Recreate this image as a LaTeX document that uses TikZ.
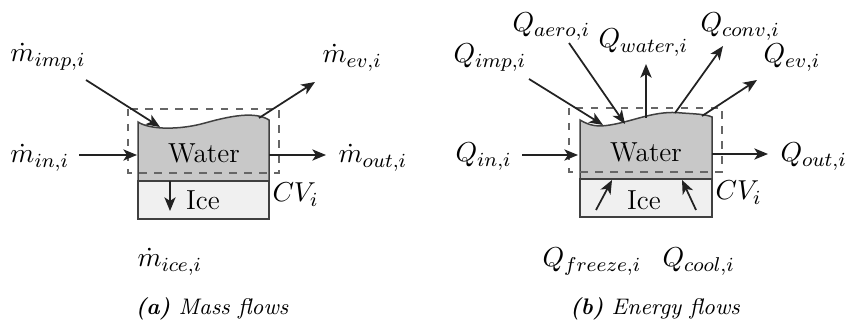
\documentclass[tikz,border=0pt]{standalone}
\usetikzlibrary{arrows.meta}
\definecolor{waterc}{HTML}{C8C8C8}
\definecolor{icec}{HTML}{F0F0F0}
\definecolor{edgec}{HTML}{404040}
\definecolor{arrc}{HTML}{222222}
\begin{document}
\begin{tikzpicture}[x=0.4pt,y=-0.4pt,
  font=\fontsize{11}{13}\selectfont,
  flow/.style={draw=arrc,line width=0.7pt,-{Stealth[length=5.5pt,width=4.5pt,inset=1.5pt]}},
  lbl/.style={inner sep=0pt,anchor=base west},
  ctr/.style={inner sep=0pt,anchor=base},
  cvbox/.style={draw=edgec!80,dashed,line width=0.5pt},
  waterbox/.style={fill=waterc,draw=edgec,line width=0.6pt},
  icebox/.style={fill=icec,draw=edgec,line width=0.6pt},
  capt/.style={inner sep=0pt,anchor=base,font=\small\itshape}]
\useasboundingbox (0,0) rectangle (850,324);

% ===== (a) Mass flows =====
\begin{scope}
\draw[icebox] (138,181) rectangle (269,219);
\draw[waterbox] (138,181) -- (138,122) .. controls (150,130) and (180,130) .. (205,123)
  .. controls (230,116) and (255,111) .. (269,120) -- (269,181) -- cycle;
\draw[cvbox] (128,109) rectangle (279,173);
\node[ctr] (aw) at (204,163) {Water};
\node[ctr] (ai) at (203,210) {Ice};
\node[lbl] (aimp) at (10,62) {$\dot m_{imp,i}$};
\node[lbl] (aev) at (322,63) {$\dot m_{ev,i}$};
\node[lbl] (ain) at (10,163) {$\dot m_{in,i}$};
\node[lbl] (aout) at (338,163) {$\dot m_{out,i}$};
\node[lbl] (aice) at (137,267) {$\dot m_{ice,i}$};
\node[lbl] (acv) at (272,202) {$CV_i$};
\coordinate (aimpS) at (86,80);
\coordinate (aimpE) at (160,127);
\coordinate (aevS) at (259,118);
\coordinate (aevE) at (315,82);
\coordinate (ainS) at (79,155);
\coordinate (ainE) at (137,155);
\coordinate (aoutS) at (269,155);
\coordinate (aoutE) at (326,155);
\coordinate (aiceS) at (170,181);
\coordinate (aiceE) at (170,211);
\draw[flow] (aimpS) -- (aimpE);
\draw[flow] (aevS) -- (aevE);
\draw[flow] (ainS) -- (ainE);
\draw[flow] (aoutS) -- (aoutE);
\draw[flow] (aiceS) -- (aiceE);
\node[capt] (acap) at (212,315) {\textbf{(a)} Mass flows};
\end{scope}

% ===== (b) Energy flows =====
\begin{scope}
\draw[icebox] (580,179) rectangle (712,217);
\draw[waterbox] (580,179) -- (580,120) .. controls (590,126) and (598,127) .. (610,125)
  .. controls (635,121) and (655,110) .. (682,113)
  .. controls (695,114) and (705,114) .. (712,117) -- (712,179) -- cycle;
\draw[cvbox] (569,108) rectangle (722,172);
\node[ctr] (bw) at (646,162) {Water};
\node[ctr] (bi) at (644,210) {Ice};
\node[lbl] (bimp) at (453,63) {$Q_{imp,i}$};
\node[lbl] (baero) at (512,32) {$Q_{aero,i}$};
\node[lbl] (bwat) at (598,48) {$Q_{water,i}$};
\node[lbl] (bconv) at (700,32) {$Q_{conv,i}$};
\node[lbl] (bev) at (763,63) {$Q_{ev,i}$};
\node[lbl] (bin) at (455,162) {$Q_{in,i}$};
\node[lbl] (bout) at (780,162) {$Q_{out,i}$};
\node[lbl] (bfr) at (542,267) {$Q_{freeze,i}$};
\node[lbl] (bcool) at (662,267) {$Q_{cool,i}$};
\node[lbl] (bcv) at (715,200) {$CV_i$};
\coordinate (bimpS) at (529,79);
\coordinate (bimpE) at (603,125);
\coordinate (baeroS) at (569,43);
\coordinate (baeroE) at (625,124);
\coordinate (bwatS) at (646,118);
\coordinate (bwatE) at (646,64);
\coordinate (bconvS) at (675,113);
\coordinate (bconvE) at (723,46);
\coordinate (bevS) at (702,116);
\coordinate (bevE) at (757,80);
\coordinate (binS) at (522,155);
\coordinate (binE) at (578,155);
\coordinate (boutS) at (712,154);
\coordinate (boutE) at (768,154);
\coordinate (bfrS) at (596,210);
\coordinate (bfrE) at (612,180);
\coordinate (bcoolS) at (696,210);
\coordinate (bcoolE) at (682,180);
\draw[flow] (bimpS) -- (bimpE);
\draw[flow] (baeroS) -- (baeroE);
\draw[flow] (bwatS) -- (bwatE);
\draw[flow] (bconvS) -- (bconvE);
\draw[flow] (bevS) -- (bevE);
\draw[flow] (binS) -- (binE);
\draw[flow] (boutS) -- (boutE);
\draw[flow] (bfrS) -- (bfrE);
\draw[flow] (bcoolS) -- (bcoolE);
\node[capt] (bcap) at (655,315) {\textbf{(b)} Energy flows};
\end{scope}
\end{tikzpicture}
\end{document}
